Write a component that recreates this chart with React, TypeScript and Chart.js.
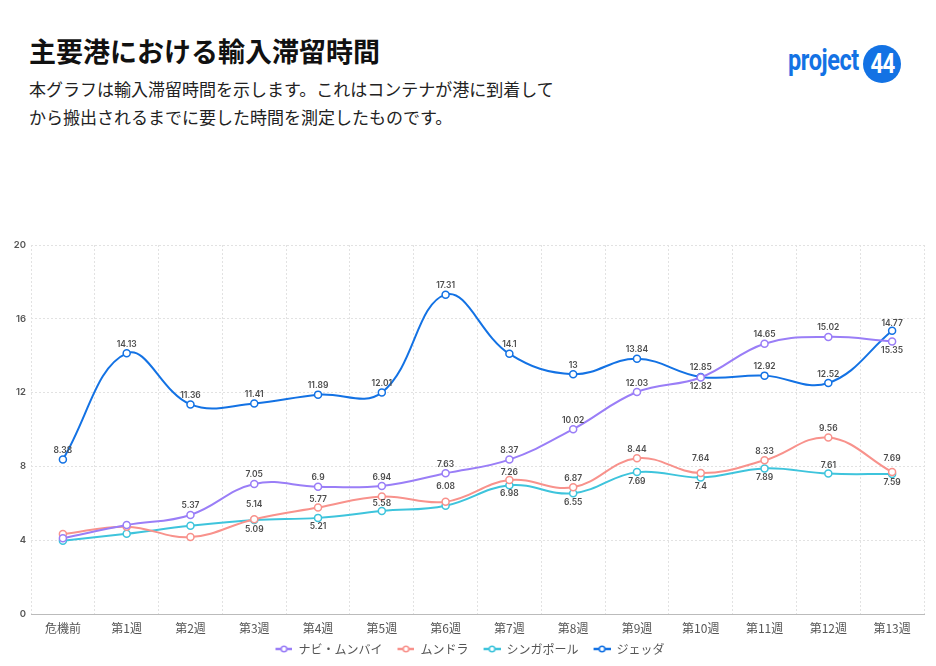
import Chart from 'chart.js/auto';
import { useEffect, useRef } from 'react';

const categories = ['危機前', '第1週', '第2週', '第3週', '第4週', '第5週', '第6週', '第7週', '第8週', '第9週', '第10週', '第11週', '第12週', '第13週'];

const naviMumbai = [4.11, 4.82, 5.37, 7.05, 6.9, 6.94, 7.63, 8.37, 10.02, 12.03, 12.82, 14.65, 15.02, 14.77];
const mundra = [4.33, 4.73, 4.17, 5.14, 5.77, 6.37, 6.08, 7.26, 6.87, 8.44, 7.64, 8.33, 9.56, 7.69];
const singapore = [3.97, 4.35, 4.78, 5.09, 5.21, 5.58, 5.87, 6.98, 6.55, 7.69, 7.4, 7.89, 7.61, 7.59];
const jeddah = [8.38, 14.13, 11.36, 11.41, 11.89, 12.01, 17.31, 14.1, 13, 13.84, 12.85, 12.92, 12.52, 15.35];

const seriesNames = ['ナビ・ムンバイ', 'ムンドラ', 'シンガポール', 'ジェッダ'];
const yTicks = [0, 4, 8, 12, 16, 20];

const colors = ['#9a7ef7', '#f8928c', '#3ec4dc', '#1372e4'];

// label offsets in px from the point (negative = above, 0 = no label)
const labelOffsets = [
  [0, 0, -9, -9, -9, -9, -9, -9, -9, -9, 9, -9, -9, -18],
  [0, 0, 0, -15, -8, 0, -15, -8, -9, -9, -15, -9, -9, -14],
  [0, 0, 0, 9, 9, -8, 0, 8, 9, 9, 9, 9, -8, 8],
  [-9, -9, -9, -9, -9, -9, -9, -9, -9, -9, -9, -9, -9, 20],
];

const cjk = '"Noto Sans CJK JP", "Noto Sans", sans-serif';

// legend marker: transparent lead-in, then a short line with a hollow dot
function legendIcon(color: string) {
  const c = document.createElement('canvas');
  c.width = 25;
  c.height = 8;
  const g = c.getContext('2d')!;
  g.strokeStyle = color;
  g.lineWidth = 2.5;
  g.beginPath();
  g.moveTo(8, 4);
  g.lineTo(25, 4);
  g.stroke();
  g.fillStyle = '#fff';
  g.lineWidth = 1.5;
  g.beginPath();
  g.arc(16.5, 4, 2.8, 0, Math.PI * 2);
  g.fill();
  g.stroke();
  return c;
}

const valueLabels = {
  id: 'valueLabels',
  afterDatasetsDraw(chart: Chart) {
    const ctx = chart.ctx;
    ctx.save();
    ctx.font = '600 8.5px Inter, "Noto Sans", sans-serif';
    ctx.fillStyle = '#4d4d4d';
    ctx.textAlign = 'center';
    ctx.textBaseline = 'middle';
    chart.data.datasets.forEach((ds, i) => {
      const meta = chart.getDatasetMeta(i);
      meta.data.forEach((pt, j) => {
        const off = labelOffsets[i][j];
        if (!off) return;
        ctx.fillText(String(ds.data[j]), pt.x, pt.y + off);
      });
    });
    ctx.restore();
  },
};

const DwellChart: React.FC = () => {
  const canvasRef = useRef<HTMLCanvasElement>(null);
  const chartRef = useRef<Chart | null>(null);

  useEffect(() => {
    const canvas = canvasRef.current;
    if (!canvas) return;
    if (chartRef.current) chartRef.current.destroy();

    const seriesData = [naviMumbai, mundra, singapore, jeddah];
    const icons = colors.map(legendIcon);

    chartRef.current = new Chart(canvas, {
      type: 'line',
      data: {
        labels: categories,
        datasets: seriesData.map((d, i) => ({
          label: seriesNames[i],
          data: d,
          borderColor: colors[i],
          backgroundColor: '#fff',
          pointBackgroundColor: '#fff',
          pointBorderColor: colors[i],
          pointBorderWidth: 1.5,
          pointRadius: 3.5,
          borderWidth: 2,
          tension: 0.4,
          fill: false,
        })),
      },
      options: {
        animation: false,
        responsive: true,
        maintainAspectRatio: false,
        layout: { padding: { left: 8, right: 12, top: 13, bottom: 1 } },
        plugins: {
          tooltip: { enabled: false },
          legend: {
            position: 'bottom',
            labels: {
              usePointStyle: true,
              pointStyleWidth: 25,
              boxHeight: 8,
              padding: 7,
              color: '#555',
              font: { family: cjk, size: 12 },
              generateLabels: (chart) =>
                Chart.defaults.plugins.legend.labels.generateLabels(chart).map((l, i) => ({
                  ...l,
                  pointStyle: icons[i],
                })),
            },
          },
        },
        scales: {
          x: {
            offset: true,
            afterFit: (s) => {
              s.height = 22;
            },
            grid: { offset: true, color: '#e2e2e2', drawTicks: false },
            border: { display: true, color: '#bbb', dash: [2, 2] },
            ticks: { color: '#555', padding: 7, maxRotation: 0, autoSkip: false, font: { family: cjk, size: 12 } },
          },
          y: {
            min: 0,
            max: 20,
            afterBuildTicks: (s) => {
              s.ticks = yTicks.map((v) => ({ value: v }));
            },
            afterFit: (s) => {
              s.width = 23;
            },
            grid: { color: '#e2e2e2', drawTicks: false },
            border: { display: false, dash: [2, 2] },
            ticks: { color: '#555', padding: 5, font: { family: 'Inter, sans-serif', size: 9.5, weight: 600 } },
          },
        },
      },
      plugins: [valueLabels],
    });

    return () => {
      if (chartRef.current) {
        chartRef.current.destroy();
        chartRef.current = null;
      }
    };
  }, []);

  return (
    <div style={{ position: 'absolute', left: 0, top: 232, width: 936, height: 434 }}>
      <canvas ref={canvasRef}></canvas>
    </div>
  );
};

export default function App() {
  return (
    <div style={{ position: 'absolute', left: 0, top: 0, width: 936, height: 666, background: '#fff', overflow: 'hidden' }}>
      <div style={{ position: 'absolute', left: 29, top: 35, fontFamily: cjk, fontWeight: 700, fontSize: 27, lineHeight: '32px', color: '#111' }}>
        主要港における輸入滞留時間
      </div>
      <div style={{ position: 'absolute', left: 29, top: 75, fontFamily: cjk, fontSize: 17, lineHeight: '28px', color: '#222' }}>
        本グラフは輸入滞留時間を示します。これはコンテナが港に到着して
        <br />
        から搬出されるまでに要した時間を測定したものです。
      </div>
      <div
        style={{
          position: 'absolute',
          left: 788,
          top: 42,
          fontFamily: 'Roboto, sans-serif',
          fontWeight: 700,
          fontSize: 29,
          lineHeight: '36px',
          color: '#1372e4',
          transform: 'scaleX(0.81)',
          transformOrigin: 'left center',
          whiteSpace: 'nowrap',
          letterSpacing: -0.5,
        }}
      >
        project
      </div>
      <div
        style={{
          position: 'absolute',
          left: 863,
          top: 45,
          width: 38,
          height: 38,
          borderRadius: 19,
          background: '#1372e4',
          color: '#fff',
          fontFamily: 'Roboto, sans-serif',
          fontWeight: 700,
          fontSize: 27,
          lineHeight: '38px',
          textAlign: 'center',
          letterSpacing: -1,
        }}
      >
        <span style={{ display: 'inline-block', transform: 'scaleX(0.82)' }}>44</span>
      </div>
      <DwellChart />
    </div>
  );
}
